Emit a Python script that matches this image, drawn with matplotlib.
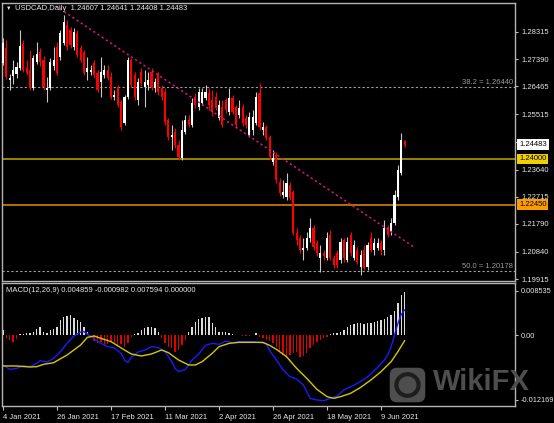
import matplotlib
matplotlib.use('Agg')
import matplotlib.pyplot as plt
from matplotlib.patches import FancyBboxPatch, Circle
import numpy as np

plt.rcParams['font.family'] = ['Liberation Sans', 'DejaVu Sans']

# daily USDCAD bars, 4 Jan 2021 .. mid Jun 2021
opens = [1.2726, 1.2777, 1.2668, 1.2682, 1.2688, 1.2709, 1.2790, 1.2709, 1.2702, 1.2641,
         1.2729, 1.2763, 1.2736, 1.2634, 1.2641, 1.2716, 1.2780, 1.2746, 1.2794, 1.2855,
         1.2838, 1.2780, 1.2828, 1.2777, 1.2763, 1.2695, 1.2695, 1.2726, 1.2692, 1.2661,
         1.2685, 1.2702, 1.2678, 1.2610, 1.2644, 1.2593, 1.2522, 1.2610, 1.2736, 1.2685,
         1.2600, 1.2695, 1.2644, 1.2651, 1.2695, 1.2641, 1.2685, 1.2641, 1.2627, 1.2532,
         1.2474, 1.2491, 1.2447, 1.2403, 1.2491, 1.2532, 1.2515, 1.2610, 1.2576, 1.2590,
         1.2607, 1.2624, 1.2600, 1.2610, 1.2539, 1.2576, 1.2600, 1.2559, 1.2607, 1.2576,
         1.2549, 1.2576, 1.2539, 1.2481, 1.2498, 1.2522, 1.2624, 1.2498, 1.2508, 1.2474,
         1.2389, 1.2413, 1.2321, 1.2277, 1.2270, 1.2311, 1.2287, 1.2148, 1.2131, 1.2090,
         1.2097, 1.2131, 1.2165, 1.2114, 1.2063, 1.2080, 1.2063, 1.2141, 1.2063, 1.2080,
         1.2056, 1.2124, 1.2056, 1.2141, 1.2063, 1.2090, 1.2032, 1.2090, 1.2032, 1.2131,
         1.2090, 1.2097, 1.2114, 1.2090, 1.2168, 1.2151, 1.2182, 1.2270, 1.2352, 1.24607]
highs = [1.2811, 1.2804, 1.2688, 1.2736, 1.2729, 1.2838, 1.2804, 1.2736, 1.2770, 1.2753,
         1.2797, 1.2777, 1.2750, 1.2678, 1.2743, 1.2780, 1.2797, 1.2838, 1.2889, 1.2872,
         1.2848, 1.2845, 1.2838, 1.2787, 1.2770, 1.2746, 1.2719, 1.2736, 1.2702, 1.2746,
         1.2719, 1.2719, 1.2695, 1.2634, 1.2651, 1.2600, 1.2617, 1.2746, 1.2743, 1.2695,
         1.2675, 1.2709, 1.2702, 1.2695, 1.2709, 1.2675, 1.2695, 1.2651, 1.2641, 1.2539,
         1.2515, 1.2505, 1.2464, 1.2532, 1.2549, 1.2549, 1.2607, 1.2624, 1.2641, 1.2641,
         1.2651, 1.2641, 1.2634, 1.2627, 1.2600, 1.2600, 1.2607, 1.2641, 1.2617, 1.2583,
         1.2600, 1.2586, 1.2549, 1.2559, 1.2566, 1.2627, 1.2658, 1.2525, 1.2515, 1.2481,
         1.2430, 1.2423, 1.2335, 1.2328, 1.2352, 1.2321, 1.2294, 1.2165, 1.2141, 1.2131,
         1.2151, 1.2199, 1.2175, 1.2124, 1.2107, 1.2090, 1.2151, 1.2158, 1.2073, 1.2090,
         1.2131, 1.2131, 1.2134, 1.2151, 1.2124, 1.2100, 1.2090, 1.2107, 1.2117, 1.2151,
         1.2131, 1.2131, 1.2124, 1.2192, 1.2175, 1.2199, 1.2294, 1.2379, 1.2488, 1.24641]
lows = [1.2719, 1.2671, 1.2634, 1.2654, 1.2675, 1.2702, 1.2695, 1.2685, 1.2634, 1.2634,
        1.2722, 1.2716, 1.2634, 1.2593, 1.2634, 1.2702, 1.2685, 1.2736, 1.2787, 1.2770,
        1.2777, 1.2770, 1.2746, 1.2729, 1.2685, 1.2668, 1.2685, 1.2675, 1.2627, 1.2610,
        1.2675, 1.2668, 1.2603, 1.2600, 1.2576, 1.2498, 1.2515, 1.2603, 1.2644, 1.2600,
        1.2583, 1.2648, 1.2576, 1.2634, 1.2634, 1.2627, 1.2617, 1.2600, 1.2515, 1.2464,
        1.2430, 1.2437, 1.2396, 1.2396, 1.2484, 1.2508, 1.2508, 1.2573, 1.2566, 1.2583,
        1.2600, 1.2566, 1.2546, 1.2566, 1.2532, 1.2508, 1.2556, 1.2549, 1.2552, 1.2505,
        1.2539, 1.2512, 1.2505, 1.2474, 1.2481, 1.2515, 1.2498, 1.2481, 1.2464, 1.2396,
        1.2379, 1.2318, 1.2274, 1.2267, 1.2260, 1.2260, 1.2141, 1.2107, 1.2080, 1.2056,
        1.2090, 1.2117, 1.2090, 1.2070, 1.2015, 1.2056, 1.2056, 1.2056, 1.2029, 1.2029,
        1.2046, 1.2049, 1.2049, 1.2070, 1.2056, 1.2042, 1.2005, 1.2022, 1.2022, 1.2083,
        1.2073, 1.2090, 1.2073, 1.2073, 1.2134, 1.2141, 1.2175, 1.2260, 1.2345, 1.24408]
closes = [1.2794, 1.2678, 1.2675, 1.2702, 1.2712, 1.2784, 1.2702, 1.2692, 1.2641, 1.2743,
          1.2756, 1.2729, 1.2644, 1.2641, 1.2729, 1.2736, 1.2692, 1.2828, 1.2865, 1.2780,
          1.2787, 1.2831, 1.2753, 1.2736, 1.2692, 1.2709, 1.2702, 1.2685, 1.2634, 1.2695,
          1.2702, 1.2675, 1.2610, 1.2617, 1.2583, 1.2508, 1.2610, 1.2736, 1.2651, 1.2610,
          1.2661, 1.2658, 1.2661, 1.2668, 1.2644, 1.2661, 1.2627, 1.2610, 1.2525, 1.2474,
          1.2481, 1.2447, 1.2406, 1.2498, 1.2532, 1.2515, 1.2590, 1.2583, 1.2627, 1.2627,
          1.2627, 1.2583, 1.2559, 1.2573, 1.2583, 1.2515, 1.2566, 1.2607, 1.2559, 1.2515,
          1.2573, 1.2522, 1.2515, 1.2542, 1.2542, 1.2610, 1.2508, 1.2508, 1.2471, 1.2406,
          1.2403, 1.2328, 1.2284, 1.2287, 1.2318, 1.2267, 1.2148, 1.2124, 1.2090, 1.2097,
          1.2131, 1.2165, 1.2100, 1.2080, 1.2080, 1.2070, 1.2131, 1.2063, 1.2039, 1.2039,
          1.2117, 1.2063, 1.2117, 1.2080, 1.2107, 1.2049, 1.2073, 1.2029, 1.2107, 1.2090,
          1.2114, 1.2114, 1.2090, 1.2165, 1.2141, 1.2182, 1.2277, 1.2362, 1.2464, 1.24483]

date_ticks = [0, 16, 32, 48, 64, 80, 96, 112]
date_labels = ['4 Jan 2021', '26 Jan 2021', '17 Feb 2021', '11 Mar 2021',
               '2 Apr 2021', '26 Apr 2021', '18 May 2021', '9 Jun 2021']
price_ticks = [1.28315, 1.27390, 1.26465, 1.25515, 1.24590,
               1.23640, 1.22715, 1.21790, 1.20840, 1.19915]

level_1 = 1.24000
level_2 = 1.22450
fib_382 = 1.26440
fib_500 = 1.20178
trend_x = [15.6, 122.2]
trend_y = [1.2920, 1.2097]

macd_hist = [0.00104, -0.00054, -0.00085, -0.00117, -0.00073, 0.00028, 0.00022, 0.00041, 0.00041, 0.00073,
             0.00117, 0.00168, 0.00073, 0.00054, 0.00104, 0.00117, 0.00168, 0.00294, 0.00345, 0.00370,
             0.00396, 0.00326, 0.00294, 0.00263, 0.00168, 0.00073, -0.00035, -0.00098, -0.00136, -0.00123,
             -0.00180, -0.00161, -0.00123, -0.00149, -0.00180, -0.00161, -0.00212, -0.00136, -0.00035, 0.00028,
             0.00054, 0.00104, 0.00136, 0.00168, 0.00168, 0.00136, 0.00073, -0.00054, -0.00149, -0.00212,
             -0.00244, -0.00307, -0.00275, -0.00180, -0.00085, 0.00073, 0.00168, 0.00263, 0.00307, 0.00326,
             0.00345, 0.00358, 0.00231, 0.00168, 0.00073, 0.00073, 0.00073, 0.00054, 0.00028, 0.00016,
             0.00009, -0.00009, -0.00016, -0.00003, 0.00016, 0.00054, -0.00022, -0.00054, -0.00085, -0.00098,
             -0.00149, -0.00225, -0.00307, -0.00370, -0.00434, -0.00370, -0.00339, -0.00307, -0.00402, -0.00389,
             -0.00339, -0.00244, -0.00180, -0.00117, -0.00085, -0.00054, -0.00022, 0.00028, 0.00041, 0.00054,
             0.00073, 0.00104, 0.00168, 0.00199, 0.00212, 0.00231, 0.00231, 0.00218, 0.00244, 0.00244,
             0.00263, 0.00282, 0.00294, 0.00307, 0.00358, 0.00389, 0.00472, 0.00611, 0.00769, 0.00833]

main_x = [0, 2, 4, 6, 8, 10, 11, 13, 15, 17, 19, 21, 23, 24, 25, 27, 29, 31, 33, 35,
          36, 37, 38, 40, 42, 44, 46, 48, 50, 51, 52, 54, 56, 58, 60, 62, 64, 66, 68, 70,
          74, 76, 78, 79, 81, 83, 85, 87, 89, 91, 93, 95, 97, 99, 101, 103, 105, 107, 109, 111,
          113, 114, 115, 116, 117, 118, 119]
main_line = [-0.00560, -0.00643, -0.00624, -0.00579, -0.00592, -0.00529, -0.00478, -0.00503, -0.00434, -0.00307,
             -0.00149, -0.00009, 0.00066, 0.00073, 0.00028, -0.00073, -0.00149, -0.00212, -0.00237, -0.00339,
             -0.00465, -0.00516, -0.00415, -0.00313, -0.00275, -0.00212, -0.00231, -0.00307, -0.00497, -0.00624,
             -0.00687, -0.00643, -0.00465, -0.00351, -0.00187, -0.00149, -0.00168, -0.00104, -0.00136, -0.00117,
             -0.00117, -0.00136, -0.00161, -0.00288, -0.00465, -0.00655, -0.00782, -0.00826, -0.00940, -0.01193,
             -0.01225, -0.01238, -0.01193, -0.01149, -0.01035, -0.00972, -0.00909, -0.00833, -0.00731, -0.00605,
             -0.00465, -0.00370, -0.00212, 0.00009, 0.00231, 0.00400, 0.00486]

signal_x = [0, 4, 8, 10, 12, 15, 19, 23, 25, 27, 29, 32, 36, 38, 41, 44, 47, 49, 52, 55,
            57, 59, 62, 64, 67, 70, 74, 77, 79, 81, 84, 87, 90, 93, 96, 98, 100, 103, 106, 109,
            112, 115, 117, 119]
signal_line = [-0.00579, -0.00579, -0.00598, -0.00592, -0.00548, -0.00516, -0.00370, -0.00180, -0.00035, -0.00009,
               -0.00054, -0.00117, -0.00275, -0.00351, -0.00389, -0.00351, -0.00275, -0.00326, -0.00465, -0.00560,
               -0.00560, -0.00497, -0.00339, -0.00212, -0.00149, -0.00130, -0.00130, -0.00130, -0.00187, -0.00263,
               -0.00402, -0.00624, -0.00814, -0.01022, -0.01162, -0.01193, -0.01162, -0.01098, -0.00984, -0.00845,
               -0.00687, -0.00497, -0.00307, -0.00098]
macd_ticks = [0.008535, 0.0, -0.012169]
macd_tick_labels = ['0.008535', '0.00', '-0.012169']

W, H = 554, 423
fig = plt.figure(figsize=(W / 100, H / 100), dpi=100, facecolor='black')
ax = fig.add_axes([2 / W, (H - 281) / H, 513 / W, 278 / H], facecolor='black')
ax2 = fig.add_axes([2 / W, (H - 406) / H, 513 / W, 123 / H], facecolor='black')

o = np.array(opens)
c = np.array(closes)
hi = np.array(highs)
lo = np.array(lows)
x = np.arange(len(c))
up = c >= o

# candles
ax.vlines(x[up], lo[up], hi[up], color='#c8c8c8', lw=0.8, zorder=2)
ax.vlines(x[~up], lo[~up], hi[~up], color='#ff0000', lw=0.8, zorder=2)
body = np.maximum(np.abs(c - o), 0.00015)
ax.bar(x, body, bottom=np.minimum(o, c), width=0.62,
       color=np.where(up, '#ffffff', '#ff0000'), lw=0, zorder=3)

ax.axhline(level_1, color='#b09a00', lw=1.2, zorder=1)
ax.axhline(level_2, color='#d58200', lw=1.2, zorder=1)
ax.axhline(fib_382, color='#a0a0a0', lw=0.8, ls=(0, (2, 2)), zorder=1)
ax.axhline(fib_500, color='#a0a0a0', lw=0.8, ls=(0, (2, 2)), zorder=1)
ax.plot(trend_x, trend_y, color='#d0168a', lw=1.1, ls=(0, (1.5, 1.8)), zorder=4)

ax.set_xlim(-0.3, 151.7)
ax.set_ylim(1.1985, 1.2930)
ax.yaxis.tick_right()
ax.set_yticks(price_ticks)
ax.set_yticklabels([f'{p:.5f}' for p in price_ticks])
ax.tick_params(axis='y', colors='#c0c0c0', labelcolor='#e6e6e6', labelsize=5.5,
               length=2.5, width=0.8, pad=1.8)
ax.tick_params(axis='x', bottom=False, labelbottom=False)

for a in (ax, ax2):
    for s in a.spines.values():
        s.set_color('#b4b4b4')
        s.set_linewidth(1)

# price boxes on the right scale
for val, fc in [(closes[-1], '#ffffff'), (level_1, '#f0d000'), (level_2, '#ff9a00')]:
    ax.annotate(f'{val:.5f}', xy=(1, val), xycoords=('axes fraction', 'data'),
                xytext=(4, 0), textcoords='offset pixels', ha='left', va='center',
                fontsize=5.5, color='black', annotation_clip=False, zorder=6,
                bbox=dict(boxstyle='square,pad=0.25', fc=fc, ec='none'))

for val, txt in [(fib_382, '38.2 = 1.26440'), (fib_500, '50.0 = 1.20178')]:
    ax.annotate(txt, xy=(1, val), xycoords=('axes fraction', 'data'),
                xytext=(-2, 1), textcoords='offset pixels', ha='right', va='bottom',
                fontsize=5.5, color='#9a9a9a')

# MACD panel
h = np.array(macd_hist)
ax2.bar(x, h, width=0.38, color=np.where(h >= 0, '#dcdcdc', '#e00000'), lw=0)
ax2.plot(main_x, main_line, color='#1a1aff', lw=1)
ax2.plot(signal_x, signal_line, color='#d6c800', lw=1)
ax2.set_xlim(-0.3, 151.7)
ax2.set_ylim(-0.01339, 0.00997)
ax2.yaxis.tick_right()
ax2.set_yticks(macd_ticks)
ax2.set_yticklabels(macd_tick_labels)
ax2.tick_params(axis='y', colors='#c0c0c0', labelcolor='#e6e6e6', labelsize=5.3,
                length=2.5, width=0.8, pad=1.5)
ax2.set_xticks(date_ticks)
ax2.set_xticklabels(date_labels)
ax2.tick_params(axis='x', colors='#c0c0c0', labelcolor='#e6e6e6', labelsize=5.5,
                length=3, width=0.8, pad=2.5)
for lbl in ax2.get_xticklabels():
    lbl.set_ha('left')

fig.text(6 / W, 1 - 8.5 / H, '\u25bc', fontsize=4, color='#e6e6e6', va='center')
fig.text(15 / W, 1 - 8.5 / H, 'USDCAD,Daily  1.24607 1.24641 1.24408 1.24483',
         fontsize=5.5, color='#e6e6e6', va='center')
fig.text(6 / W, 1 - 291 / H, 'MACD(12,26,9) 0.004859 -0.000982 0.007594 0.000000',
         fontsize=5.5, color='#e6e6e6', va='center')

# WikiFX watermark
logo = fig.add_axes([389 / W, (H - 403) / H, 37 / W, 36 / H])
logo.set_axis_off()
logo.set_xlim(0, 1)
logo.set_ylim(0, 1)
logo.add_patch(FancyBboxPatch((0.02, 0.02), 0.96, 0.96, boxstyle='round,pad=0,rounding_size=0.2',
                              fc='#4e4e4e', ec='none'))
logo.add_patch(Circle((0.5, 0.5), 0.3, fc='none', ec='#1e1e1e', lw=3))
fig.text(433 / W, 1 - 382 / H, 'WikiFX', fontsize=21, fontweight='bold',
         color='#4e4e4e', va='center', ha='left')

fig.savefig('out.png', dpi=100, facecolor='black')
